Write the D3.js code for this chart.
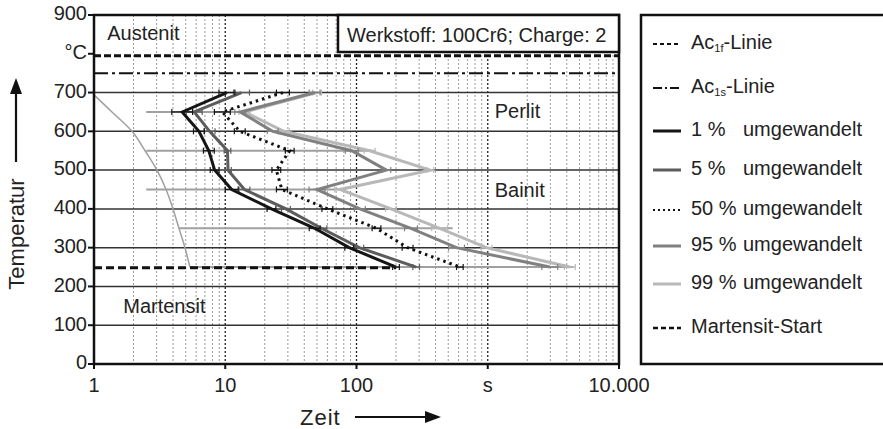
<!DOCTYPE html>
<html>
<head>
<meta charset="utf-8">
<script src="https://cdn.jsdelivr.net/npm/d3@7"></script>
<style>
  body { margin: 0; background: #fff; }
  svg { display: block; font-family: "Liberation Sans", Arial, sans-serif; }
</style>
</head>
<body>
<div id="chart"></div>
<script>
// temperature levels of the isothermal holds (°C)
const tempLevels = [700, 650, 600, 550, 500, 450, 400, 350, 300, 250];

// transformation times in s, per level
const t1  = [10.3, 4.7, 6.3, 7.5, 8.3, 11.2, 22.5, 48, 88, 200];
const t5  = [13.3, 5.8, 7.6, 10.4, 10.5, 14, 29, 54, 105, 285];
const t50 = [27.5, 9.5, 12.9, 31, 24.5, 27, 60, 142, 245, 613];
const t95 = [48, 13, 23, 92, 169, 50, 106, 260, 578, 2970];
const t99 = [50, 14, 28, 126, 365, 75, 183, 430, 979, 4220];

// scatter of the measurements (multiplicative half width)
const e1  = [1.15, 1.2, 1.1, 1.1, 1.08, 1.12, 1.08, 1.1, 1.08, 1.06];
const e5  = [1.15, 1.15, 1.1, 1.06, 1.06, 1.1, 1.08, 1.1, 1.08, 1.06];
const e50 = [1.12, 1.15, 1.1, 1.08, 1.08, 1.1, 1.1, 1.08, 1.1, 1.06];
const e95 = [1.1, 1.1, 1.1, 1.12, 1.08, 1.15, 1.1, 1.12, 1.15, 1.15];
const e99 = [1.08, 1.1, 1.1, 1.1, 1.06, 1.1, 1.1, 1.15, 1.1, 1.1];

// cooling curve down to the hold temperature
const coolTemp = [694, 650, 600, 550, 500, 450, 400, 350, 300, 250];
const coolTime = [1, 1.37, 1.95, 2.45, 3.02, 3.54, 4.0, 4.44, 4.93, 5.38];

// hold lines (only the intermediate ones are visible between grid lines)
const holdTemp  = [650, 550, 450, 350, 250];
const holdStart = [2.5, 2.5, 2.5, 4.44, 5.38];
const holdEnd   = [15.5, 135, 80, 540, 4500];

const ac1f = 795;
const ac1s = 750;
const msTemp = 248;
const msEnd = 200;

const yTicks = [0, 100, 200, 300, 400, 500, 600, 700, 800, 900];
const yTickLabels = ["0", "100", "200", "300", "400", "500", "600", "700", "°C", "900"];
const yGrid = [100, 200, 300, 400, 500, 600, 700];
const xTicks = [1, 10, 100, 1000, 10000];
const xTickLabels = ["1", "10", "100", "s", "10.000"];

const width = 883, height = 429;
const x = d3.scaleLog().domain([1, 10000]).range([94, 619]);
const y = d3.scaleLinear().domain([0, 900]).range([364, 15]);

const svg = d3.select("#chart").append("svg")
    .attr("width", width)
    .attr("height", height);

// vertical dotted grid
const minor = [];
[1, 10, 100, 1000].forEach(d => { for (let m = 2; m <= 9; m++) minor.push(m * d); });
svg.append("g").selectAll("line").data(minor).join("line")
    .attr("x1", d => x(d)).attr("x2", d => x(d))
    .attr("y1", y(900)).attr("y2", y(0))
    .attr("stroke", "#9a9a9a").attr("stroke-width", 1)
    .attr("stroke-dasharray", "2,2");
svg.append("g").selectAll("line").data([10, 100, 1000]).join("line")
    .attr("x1", d => x(d)).attr("x2", d => x(d))
    .attr("y1", y(900)).attr("y2", y(0))
    .attr("stroke", "#222").attr("stroke-width", 1.3)
    .attr("stroke-dasharray", "2,2");

// hold lines
svg.append("g").selectAll("line").data(holdTemp).join("line")
    .attr("x1", (d, i) => x(holdStart[i])).attr("x2", (d, i) => x(holdEnd[i]))
    .attr("y1", d => y(d)).attr("y2", d => y(d))
    .attr("stroke", "#a0a0a0").attr("stroke-width", 2);

// horizontal grid
svg.append("g").selectAll("line").data(yGrid).join("line")
    .attr("x1", x(1)).attr("x2", x(10000))
    .attr("y1", d => y(d)).attr("y2", d => y(d))
    .attr("stroke", "#333").attr("stroke-width", 1.5);

// cooling curve
const cool = coolTemp.map((T, i) => ({ t: coolTime[i], T }));
svg.append("path")
    .datum(cool)
    .attr("fill", "none")
    .attr("stroke", "#a0a0a0")
    .attr("stroke-width", 1.5)
    .attr("d", d3.line().curve(d3.curveCatmullRom).x(d => x(d.t)).y(d => y(d.T)));

// Ac lines and martensite start
svg.append("line")
    .attr("x1", x(1)).attr("x2", x(10000)).attr("y1", y(ac1f)).attr("y2", y(ac1f))
    .attr("stroke", "#111").attr("stroke-width", 3).attr("stroke-dasharray", "7,3");
svg.append("line")
    .attr("x1", x(1)).attr("x2", x(10000)).attr("y1", y(ac1s)).attr("y2", y(ac1s))
    .attr("stroke", "#111").attr("stroke-width", 2).attr("stroke-dasharray", "14,4,3,4");
svg.append("line")
    .attr("x1", x(1)).attr("x2", x(msEnd)).attr("y1", y(msTemp)).attr("y2", y(msTemp))
    .attr("stroke", "#111").attr("stroke-width", 3).attr("stroke-dasharray", "8,4");

// transformation curves
const series = [
    { times: t99, err: e99, color: "#b8b8b8", dash: null },
    { times: t95, err: e95, color: "#808080", dash: null },
    { times: t50, err: e50, color: "#111", dash: "2.5,4" },
    { times: t5,  err: e5,  color: "#5c5c5c", dash: null },
    { times: t1,  err: e1,  color: "#151515", dash: null }
];
const line = d3.line().x(d => x(d.t)).y(d => y(d.T));

series.forEach(s => {
    const pts = tempLevels.map((T, i) => ({ T, t: s.times[i], e: s.err[i] }));
    const g = svg.append("g");
    g.selectAll("line.err").data(pts).join("line")
        .attr("x1", d => x(d.t / d.e)).attr("x2", d => x(d.t * d.e))
        .attr("y1", d => y(d.T)).attr("y2", d => y(d.T))
        .attr("stroke", s.color).attr("stroke-width", 1.3);
    g.selectAll("line.capl").data(pts).join("line")
        .attr("x1", d => x(d.t / d.e)).attr("x2", d => x(d.t / d.e))
        .attr("y1", d => y(d.T) - 3).attr("y2", d => y(d.T) + 3)
        .attr("stroke", s.color).attr("stroke-width", 1.2);
    g.selectAll("line.capr").data(pts).join("line")
        .attr("x1", d => x(d.t * d.e)).attr("x2", d => x(d.t * d.e))
        .attr("y1", d => y(d.T) - 3).attr("y2", d => y(d.T) + 3)
        .attr("stroke", s.color).attr("stroke-width", 1.2);
    g.append("path")
        .datum(pts)
        .attr("fill", "none")
        .attr("stroke", s.color)
        .attr("stroke-width", 3)
        .attr("stroke-dasharray", s.dash)
        .attr("stroke-linejoin", "miter")
        .attr("d", line);
});

// frame
svg.append("rect")
    .attr("x", x(1)).attr("y", y(900))
    .attr("width", x(10000) - x(1)).attr("height", y(0) - y(900))
    .attr("fill", "none").attr("stroke", "#111").attr("stroke-width", 2.5);

// material box
svg.append("rect")
    .attr("x", 338).attr("y", y(900))
    .attr("width", x(10000) - 338).attr("height", 37)
    .attr("fill", "#fff").attr("stroke", "#111").attr("stroke-width", 2.5);
svg.append("text")
    .attr("x", 347).attr("y", 42)
    .attr("font-size", 20).attr("fill", "#222")
    .text("Werkstoff: 100Cr6; Charge: 2");

// region labels
const regions = [
    { text: "Austenit", t: 1.26, T: 848 },
    { text: "Perlit", t: 1130, T: 648 },
    { text: "Bainit", t: 1130, T: 445 },
    { text: "Martensit", t: 1.67, T: 146 }
];
svg.append("g").selectAll("text").data(regions).join("text")
    .attr("x", d => x(d.t)).attr("y", d => y(d.T))
    .attr("font-size", 20).attr("fill", "#222")
    .attr("dominant-baseline", "middle")
    .text(d => d.text);

// y axis
svg.append("g").selectAll("line").data(yTicks).join("line")
    .attr("x1", x(1) - 6).attr("x2", x(1))
    .attr("y1", d => y(d)).attr("y2", d => y(d))
    .attr("stroke", "#111").attr("stroke-width", 2);
svg.append("g").selectAll("text").data(yTicks).join("text")
    .attr("x", 87).attr("y", d => y(d))
    .attr("text-anchor", "end").attr("dominant-baseline", "middle")
    .attr("font-size", 20).attr("fill", "#222")
    .text((d, i) => yTickLabels[i]);

// x axis
svg.append("g").selectAll("line").data(xTicks).join("line")
    .attr("x1", d => x(d)).attr("x2", d => x(d))
    .attr("y1", y(0)).attr("y2", y(0) + 5)
    .attr("stroke", "#111").attr("stroke-width", 2);
svg.append("g").selectAll("text").data(xTicks).join("text")
    .attr("x", d => x(d)).attr("y", 392)
    .attr("text-anchor", "middle")
    .attr("font-size", 20).attr("fill", "#222")
    .text((d, i) => xTickLabels[i]);

// axis titles with arrows
svg.append("text")
    .attr("transform", "translate(24,234) rotate(-90)")
    .attr("text-anchor", "middle")
    .attr("font-size", 22).attr("fill", "#222")
    .text("Temperatur");
svg.append("line")
    .attr("x1", 16).attr("x2", 16).attr("y1", 162).attr("y2", 92)
    .attr("stroke", "#111").attr("stroke-width", 2.2);
svg.append("path")
    .attr("d", "M16,78L22,94L10,94Z")
    .attr("fill", "#111");

svg.append("text")
    .attr("x", 300).attr("y", 425)
    .attr("font-size", 22).attr("fill", "#222")
    .attr("letter-spacing", 1)
    .text("Zeit");
svg.append("line")
    .attr("x1", 355).attr("x2", 426).attr("y1", 417).attr("y2", 417)
    .attr("stroke", "#111").attr("stroke-width", 2.2);
svg.append("path")
    .attr("d", "M441,417L425,411L425,423Z")
    .attr("fill", "#111");

// legend
const legendLabels = ["Ac", "Ac", "1 %", "5 %", "50 %", "95 %", "99 %", "Martensit-Start"];
const legendSubs = ["1f", "1s", null, null, null, null, null, null];
const legendY = [44, 88, 131, 170, 210, 246, 284, 328];
const legendStyle = [
    { color: "#111", width: 2, dash: "4,3" },
    { color: "#111", width: 2, dash: "9,3,2,3" },
    { color: "#151515", width: 3, dash: null },
    { color: "#5c5c5c", width: 3, dash: null },
    { color: "#111", width: 2, dash: "2,3" },
    { color: "#808080", width: 3, dash: null },
    { color: "#b8b8b8", width: 3, dash: null },
    { color: "#111", width: 2.5, dash: "5,3" }
];

const legend = svg.append("g");
legend.append("rect")
    .attr("x", 641).attr("y", 15)
    .attr("width", 260).attr("height", 349)
    .attr("fill", "#fff").attr("stroke", "#111").attr("stroke-width", 2.5);

const items = legend.selectAll("g.item").data(legendLabels).join("g");
items.append("line")
    .attr("x1", 653).attr("x2", 681)
    .attr("y1", (d, i) => legendY[i]).attr("y2", (d, i) => legendY[i])
    .attr("stroke", (d, i) => legendStyle[i].color)
    .attr("stroke-width", (d, i) => legendStyle[i].width)
    .attr("stroke-dasharray", (d, i) => legendStyle[i].dash);
items.each(function (d, i) {
    const t = d3.select(this).append("text")
        .attr("x", 691).attr("y", legendY[i])
        .attr("dominant-baseline", "middle")
        .attr("font-size", 20).attr("fill", "#222");
    if (legendSubs[i]) {
        t.append("tspan").text(d);
        t.append("tspan").attr("font-size", 11).attr("dy", 5).text(legendSubs[i]);
        t.append("tspan").attr("dy", -5).text("-Linie");
    } else {
        t.text(d);
    }
    if (i >= 2 && i <= 6) {
        d3.select(this).append("text")
            .attr("x", 743).attr("y", legendY[i])
            .attr("dominant-baseline", "middle")
            .attr("font-size", 20).attr("fill", "#222")
            .text("umgewandelt");
    }
});
</script>
</body>
</html>
